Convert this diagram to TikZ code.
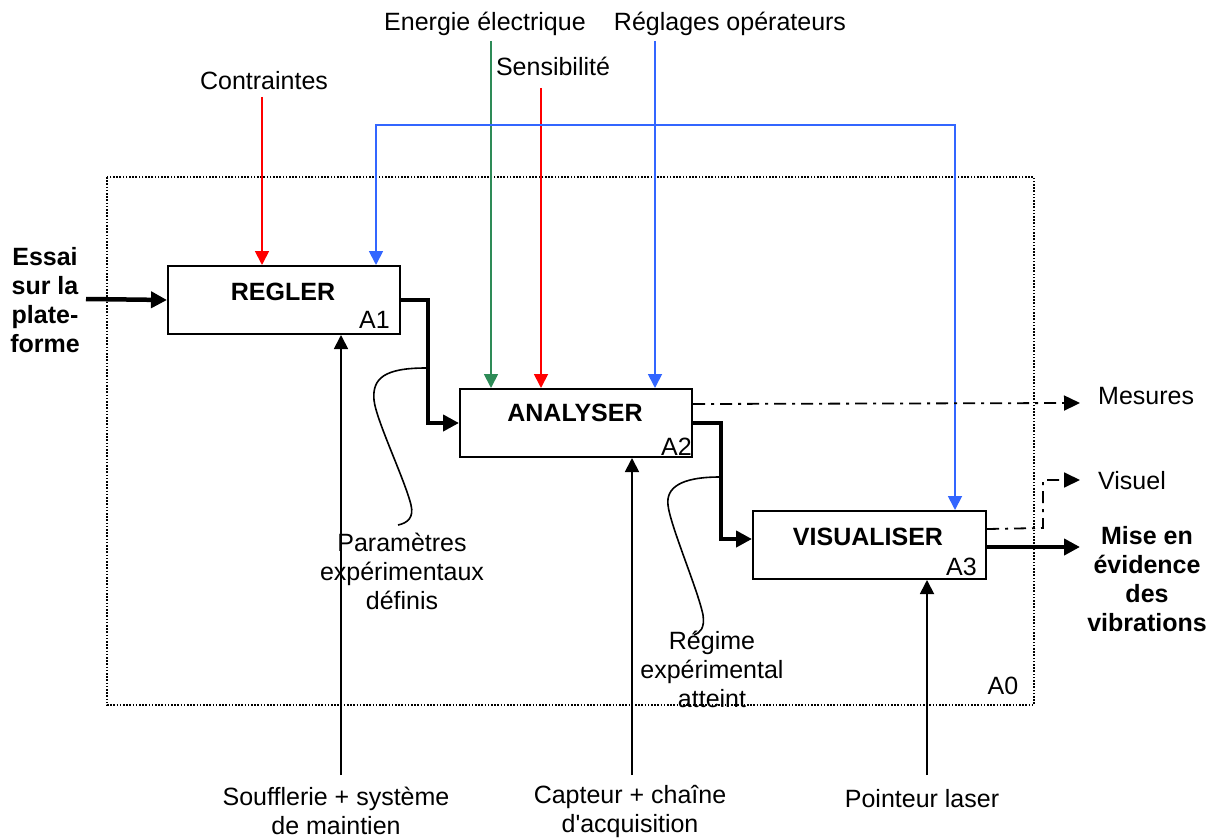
\documentclass[tikz,border=0pt]{standalone}
\usepackage{fontspec}
\setmainfont{Liberation Sans}
\usetikzlibrary{arrows.meta}
\definecolor{cred}{RGB}{255,0,0}
\definecolor{cgreen}{RGB}{46,139,87}
\definecolor{cblue}{RGB}{51,102,255}
\begin{document}
\begin{tikzpicture}[x=1pt,y=-1pt,
  every node/.style={font=\fontsize{25}{29}\selectfont, inner sep=0pt},
  fbox/.style={draw, line width=2pt, anchor=north west, inner sep=0pt, minimum width=232pt, minimum height=68pt},
  title/.style={font=\fontsize{25}{29}\selectfont\bfseries},
  lbl/.style={align=center},
  blbl/.style={align=center, font=\fontsize{25}{29}\selectfont\bfseries},
  thinarr/.style={line width=1.8pt, -{Triangle[length=14pt,width=14pt]}},
  thickarr/.style={line width=4.5pt, line join=miter, -{Triangle[length=16pt,width=16pt]}},
  dashdot/.style={line width=1.8pt, dash pattern=on 12pt off 6pt on 3pt off 6pt, -{Triangle[length=16pt,width=15pt]}},
  leader/.style={line width=1.6pt},
  frame/.style={line width=1.6pt, dash pattern=on 1.6pt off 1.6pt}]
\useasboundingbox (0,0) rectangle (1215,840);

% A0 frame
\draw[frame] (107,177) rectangle (1034,705);
\node (a0) at (1003,686) {A0};

% boxes
\node[fbox] (regler) at (167,265) {};
\node[fbox] (analyser) at (459,388) {};
\node[fbox, minimum width=233pt] (visu) at (752,510) {};
\node[title] (treg) at (283,292) {REGLER};
\node[title] (tana) at (575,413) {ANALYSER};
\node[title] (tvis) at (868,537) {VISUALISER};
\node[anchor=south east] (a1) at ([xshift=-11pt,yshift=6pt]regler.south east) {A1};
\node[anchor=south east] (a2) at ([xshift=-1pt,yshift=2pt]analyser.south east) {A2};
\node[anchor=south east] (a3) at ([xshift=-10pt,yshift=4pt]visu.south east) {A3};

% top labels
\node[lbl] (contr) at (264,81) {Contraintes};
\node[lbl] (energ) at (485,24) {Energie électrique};
\node[lbl] (sensi) at (553,66) {Sensibilité};
\node[lbl] (regl) at (730,24) {Réglages opérateurs};
\coordinate (cS) at (262,97);
\coordinate (eS) at (491,41);
\coordinate (sS) at (541,88);
\coordinate (rS) at (655,41);
\coordinate (bL) at (376,125);
\coordinate (bR) at (955,125);

\draw[thinarr, cred] (cS) -- (cS |- regler.north);
\draw[thinarr, cgreen] (eS) -- (eS |- analyser.north);
\draw[thinarr, cred] (sS) -- (sS |- analyser.north);
\draw[thinarr, cblue] (rS) -- (rS |- analyser.north);
\draw[line width=1.8pt, cblue, {Triangle[length=14pt,width=14pt]}-{Triangle[length=14pt,width=14pt]}]
  (bL |- regler.north) -- (bL) -- (bR) -- (bR |- visu.north);

% input
\node[blbl] (essai) at (45,300) {Essai\\sur la\\plate-\\forme};
\coordinate (inS) at (86,299);
\draw[thickarr] (inS) -- (regler.west);

% internal flows
\draw[thickarr] (regler.east) -- ++(27,0) |- (analyser.west);
\draw[thickarr] (analyser.east) -- ++(28,0) |- ([yshift=6pt]visu.west);

% outputs
\node[anchor=west] (mes) at (1098,396) {Mesures};
\node[anchor=west] (vis) at (1098,481) {Visuel};
\node[blbl] (mise) at (1147,579) {Mise en\\évidence\\des\\vibrations};
\coordinate (mesE) at (1080,403);
\coordinate (visE) at (1080,480);
\coordinate (visK) at (1043,528);
\coordinate (outE) at (1080,547);
\draw[dashdot] ([yshift=19pt]analyser.east) -- (mesE);
\draw[dashdot] ([yshift=16pt]visu.east) -- (visK) |- (visE);
\draw[thickarr] (visu.east |- outE) -- (outE);

% mechanisms
\node[lbl] (souf) at (336,811) {Soufflerie + système\\de maintien};
\node[lbl] (capt) at (630,811) {Capteur + chaîne\\d\textquotesingle acquisition};
\node[lbl] (point) at (922,799) {Pointeur laser};
\coordinate (m1) at (341,775);
\coordinate (m2) at (632,775);
\coordinate (m3) at (927,775);
\draw[thinarr] (m1) -- (m1 |- regler.south);
\draw[thinarr] (m2) -- (m2 |- analyser.south);
\draw[thinarr] (m3) -- (m3 |- visu.south);

% leader labels
\node[lbl] (param) at (402,571) {Paramètres\\expérimentaux\\définis};
\node[lbl] (regime) at (712,669) {Régime\\expérimental\\atteint};
\draw[leader] (426,368) .. controls (385,368) and (372,378) .. (374,400)
  .. controls (376,420) and (405,480) .. (411,505)
  .. controls (414,517) and (408,523) .. (398,525);
\draw[leader] (720,477) .. controls (680,477) and (666,488) .. (668,505)
  .. controls (670,525) and (698,590) .. (703,615)
  .. controls (705,628) and (700,633) .. (694,635);
\end{tikzpicture}
\end{document}
